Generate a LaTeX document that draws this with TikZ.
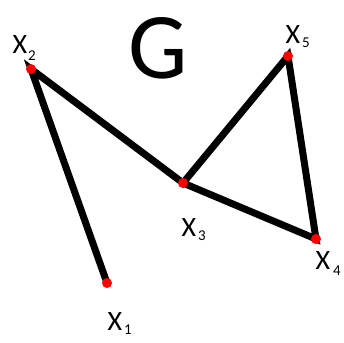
\documentclass[tikz,border=0pt]{standalone}
\usepackage{fontspec}
\setmainfont{Carlito}
\tikzset{
  vtx/.style={circle,fill=red,inner sep=0pt,minimum size=10pt},
  edge/.style={line width=7pt,black},
  lbl/.style={inner sep=0pt,font=\fontsize{28}{28}\selectfont},
  sub/.style={inner sep=0pt,font=\fontsize{15}{15}\selectfont}
}
\begin{document}
\begin{tikzpicture}[x=1pt,y=-1pt]
\useasboundingbox (0,0) rectangle (344,342);
\coordinate (p1) at (107,283);
\coordinate (p2) at (31,69);
\coordinate (p3) at (183,183);
\coordinate (p4) at (316,239);
\coordinate (p5) at (288,56);
\draw[edge] (p1) -- (p2) -- (p3) -- (p5) -- (p4) -- (p3);
\node[vtx] (v1) at (p1) {};
\node[vtx] (v2) at (p2) {};
\node[vtx] (v3) at (p3) {};
\node[vtx] (v4) at (p4) {};
\node[vtx] (v5) at (p5) {};
\node[inner sep=0pt,font=\fontsize{94}{94}\selectfont] (g) at (158,48) {G};
\node[lbl] (l2) at (20,45) {X};
\node[sub] (s2) at (32,56) {2};
\node[lbl] (l5) at (293,35) {X};
\node[sub] (s5) at (306,43) {5};
\node[lbl] (l3) at (189,228) {X};
\node[sub] (s3) at (202,236) {3};
\node[lbl] (l4) at (323,261) {X};
\node[sub] (s4) at (337,271) {4};
\node[lbl] (l1) at (115,322) {X};
\node[sub] (s1) at (128,330) {1};
\end{tikzpicture}
\end{document}
